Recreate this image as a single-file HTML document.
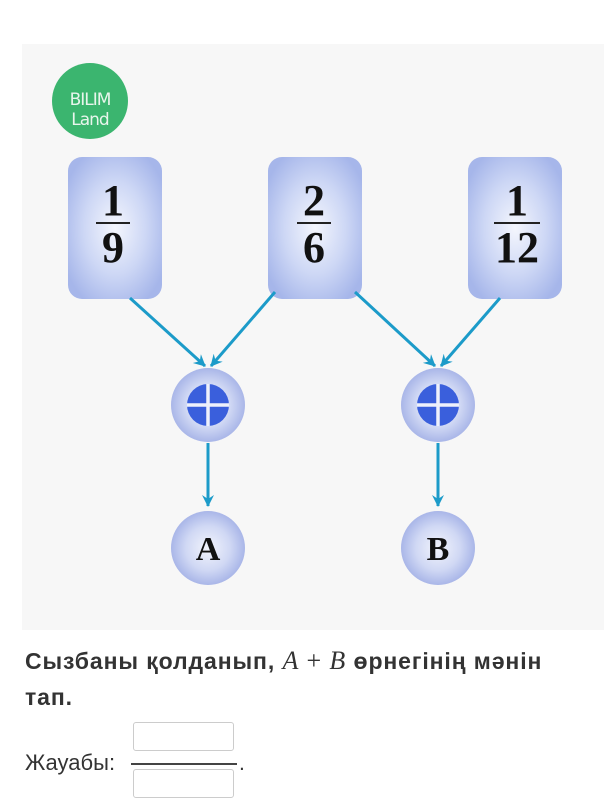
<!DOCTYPE html>
<html><head><meta charset="utf-8"><style>
html,body{margin:0;padding:0;background:#fff;width:611px;height:811px;overflow:hidden;font-family:"Liberation Sans","DejaVu Sans",sans-serif}
</style></head><body>
<svg width="611" height="811" xmlns="http://www.w3.org/2000/svg" style="position:absolute;left:0;top:0">
<defs>
<radialGradient id="bx" cx="50%" cy="50%" r="60%">
<stop offset="0" stop-color="#f4f6fd"/><stop offset="0.55" stop-color="#cdd7f5"/><stop offset="1" stop-color="#a6b6ea"/>
</radialGradient>
<radialGradient id="ci" cx="50%" cy="50%" r="50%">
<stop offset="0" stop-color="#f2f4fc"/><stop offset="0.6" stop-color="#d0d8f4"/><stop offset="1" stop-color="#a9b6e8"/>
</radialGradient>
<marker id="ar" markerWidth="14" markerHeight="14" refX="11" refY="6" orient="auto" markerUnits="userSpaceOnUse">
<path d="M0,0 L12,6 L0,12 L4,6 Z" fill="#1c9bc9"/>
</marker>
</defs>
<rect x="22" y="44" width="582" height="586" fill="#f7f7f7"/>
<circle cx="90" cy="101" r="38" fill="#3bb56f"/>
<text x="90" y="105" text-anchor="middle" font-size="17" fill="#e8f5ec" font-family="DejaVu Sans,sans-serif" letter-spacing="-1">BILIM</text>
<text x="90" y="125" text-anchor="middle" font-size="17" fill="#e8f5ec" font-family="DejaVu Sans,sans-serif" letter-spacing="-1">Land</text>
<g fill="url(#bx)">
<rect x="68" y="157" width="94" height="142" rx="14"/>
<rect x="268" y="157" width="94" height="142" rx="14"/>
<rect x="468" y="157" width="94" height="142" rx="14"/>
</g>
<g font-family="Liberation Serif,serif" font-size="44" font-weight="bold" fill="#111" text-anchor="middle">
<text x="113" y="215">1</text><text x="113" y="262">9</text>
<text x="314" y="215">2</text><text x="314" y="262">6</text>
<text x="517" y="215">1</text><text x="517" y="262">12</text>
</g>
<g stroke="#222" stroke-width="2">
<line x1="96" y1="223" x2="130" y2="223"/>
<line x1="297" y1="223" x2="331" y2="223"/>
<line x1="494" y1="223" x2="540" y2="223"/>
</g>
<g stroke="#1c9bc9" stroke-width="3" marker-end="url(#ar)">
<line x1="130" y1="298" x2="205" y2="366"/>
<line x1="275" y1="292" x2="211" y2="366"/>
<line x1="355" y1="292" x2="435" y2="366"/>
<line x1="500" y1="298" x2="441" y2="366"/>
<line x1="208" y1="443" x2="208" y2="506"/>
<line x1="438" y1="443" x2="438" y2="506"/>
</g>
<g fill="url(#ci)">
<circle cx="208" cy="405" r="37"/><circle cx="438" cy="405" r="37"/>
<circle cx="208" cy="548" r="37"/><circle cx="438" cy="548" r="37"/>
</g>
<g fill="#3a5fdc"><circle cx="208" cy="405" r="21"/><circle cx="438" cy="405" r="21"/></g>
<g stroke="#eef1fb" stroke-width="3.5">
<line x1="187" y1="405" x2="229" y2="405"/><line x1="208" y1="384" x2="208" y2="426"/>
<line x1="417" y1="405" x2="459" y2="405"/><line x1="438" y1="384" x2="438" y2="426"/>
</g>
<g font-family="Liberation Serif,serif" font-size="34" font-weight="bold" fill="#111" text-anchor="middle">
<text x="208" y="560">A</text><text x="438" y="560">B</text>
</g>
</svg>
<div style="position:absolute;left:25px;top:643px;font-size:23px;font-weight:bold;color:#333;line-height:36px;width:580px;letter-spacing:0.9px;white-space:nowrap">Сызбаны қолданып, <span style="font-family:'Liberation Serif',serif;font-style:italic;font-weight:normal;font-size:26px">A</span> <span style="font-family:'Liberation Serif',serif;font-weight:normal;font-size:26px">+</span> <span style="font-family:'Liberation Serif',serif;font-style:italic;font-weight:normal;font-size:26px">B</span> өрнегінің мәнін<br>тап.</div>
<div style="position:absolute;left:25px;top:750px;font-size:22px;color:#333">Жауабы:</div>
<div style="position:absolute;left:133px;top:722px;width:99px;height:27px;border:1px solid #ccc;border-radius:3px;background:#fff"></div>
<div style="position:absolute;left:131px;top:763px;width:106px;height:2px;background:#444"></div>
<div style="position:absolute;left:133px;top:769px;width:99px;height:27px;border:1px solid #ccc;border-radius:3px;background:#fff"></div>
<div style="position:absolute;left:239px;top:752px;font-size:21px;color:#333">.</div>
</body></html>
